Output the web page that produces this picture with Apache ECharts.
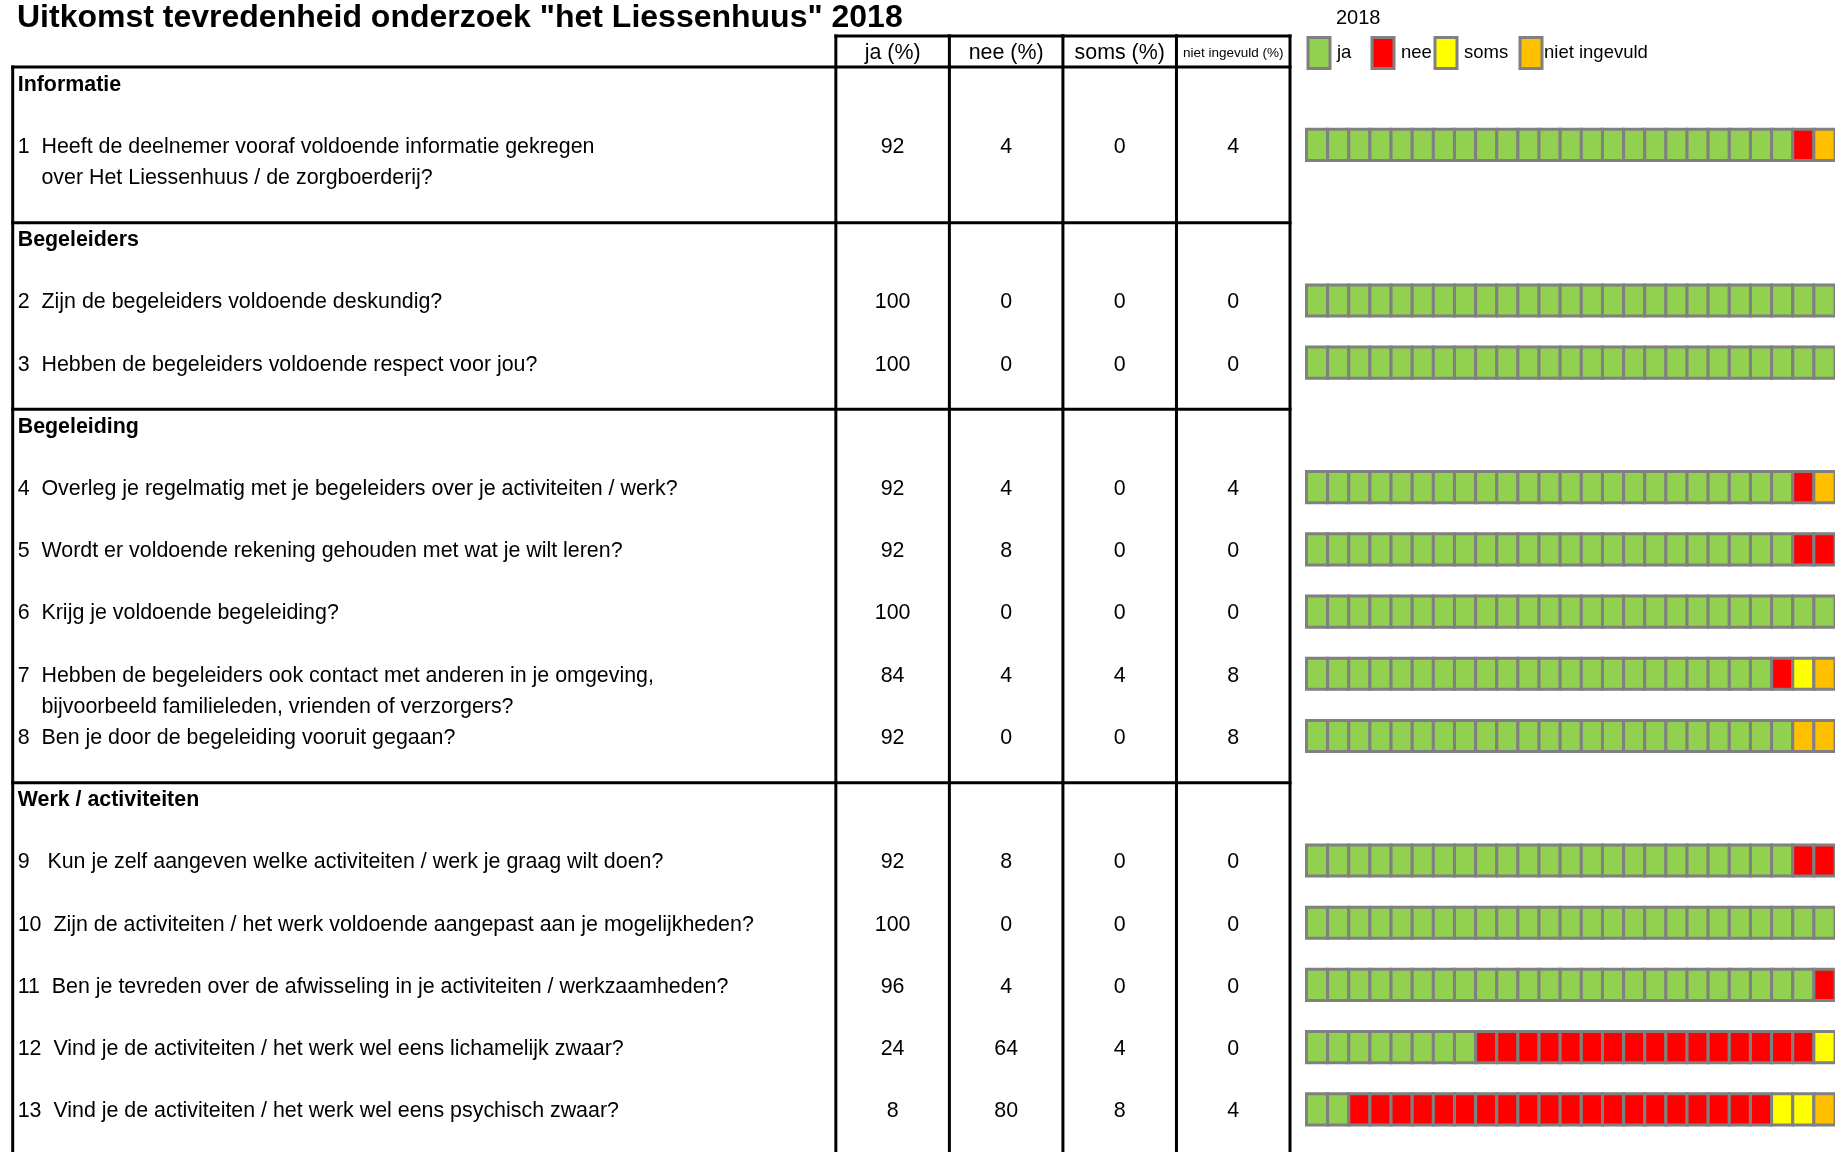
<!DOCTYPE html>
<html>
<head>
<meta charset="utf-8">
<title>Tevredenheid Liessenhuus 2018</title>
<script src="https://cdn.jsdelivr.net/npm/echarts@6/dist/echarts.min.js"></script>
<style>
  html, body { margin: 0; padding: 0; background: #fff; }
  #chart { width: 1835px; height: 1152px; }
</style>
</head>
<body>
<div id="chart"></div>
<script>
// kolomkoppen en legenda
var kolommen = ['ja (%)', 'nee (%)', 'soms (%)', 'niet ingevuld (%)'];
var legendaNamen = ['ja', 'nee', 'soms', 'niet ingevuld'];

// rubrieken + op welke regel ze staan
var rubrieken = ['Informatie', 'Begeleiders', 'Begeleiding', 'Werk / activiteiten'];
var rubriekRegel = [0, 5, 11, 23];

var vragen = [
  '1  Heeft de deelnemer vooraf voldoende informatie gekregen\n    over Het Liessenhuus / de zorgboerderij?',
  '2  Zijn de begeleiders voldoende deskundig?',
  '3  Hebben de begeleiders voldoende respect voor jou?',
  '4  Overleg je regelmatig met je begeleiders over je activiteiten / werk?',
  '5  Wordt er voldoende rekening gehouden met wat je wilt leren?',
  '6  Krijg je voldoende begeleiding?',
  '7  Hebben de begeleiders ook contact met anderen in je omgeving,\n    bijvoorbeeld familieleden, vrienden of verzorgers?',
  '8  Ben je door de begeleiding vooruit gegaan?',
  '9   Kun je zelf aangeven welke activiteiten / werk je graag wilt doen?',
  '10  Zijn de activiteiten / het werk voldoende aangepast aan je mogelijkheden?',
  '11  Ben je tevreden over de afwisseling in je activiteiten / werkzaamheden?',
  '12  Vind je de activiteiten / het werk wel eens lichamelijk zwaar?',
  '13  Vind je de activiteiten / het werk wel eens psychisch zwaar?'
];
var vraagRegel = [2, 7, 9, 13, 15, 17, 19, 21, 25, 27, 29, 31, 33];

// percentages zoals in de tabel
var ja = [92, 100, 100, 92, 92, 100, 84, 92, 92, 100, 96, 24, 8];
var nee = [4, 0, 0, 4, 8, 0, 4, 0, 8, 0, 4, 64, 80];
var soms = [0, 0, 0, 0, 0, 0, 4, 0, 0, 0, 0, 4, 8];
var nietIngevuld = [4, 0, 0, 4, 0, 0, 8, 8, 0, 0, 0, 0, 4];

// blokjes (van 25) in de balken rechts
var blokJa = [23, 25, 25, 23, 23, 25, 22, 23, 23, 25, 24, 8, 2];
var blokNee = [1, 0, 0, 1, 2, 0, 1, 0, 2, 0, 1, 16, 20];
var blokSoms = [0, 0, 0, 0, 0, 0, 1, 0, 0, 0, 0, 1, 2];
var blokNiet = [1, 0, 0, 1, 0, 0, 1, 2, 0, 0, 0, 0, 1];

// ---- opmaak ----
var FONT = 'Liberation Sans, Arial, sans-serif';
var LETTER = 21.4;
var TEKST_DY = 2;                         // tekst iets lager dan het midden
var REGEL_MIN = -1.5, REGEL_MAX = 34.37;
var VRAAG_BREEDTE = 7.25;                 // eerste kolom, in kolombreedtes
var TABEL_BREEDTE = VRAAG_BREEDTE + kolommen.length;
var kleuren = ['#92D050', '#FF0000', '#FFFF00', '#FFC000'];
var legendaLinks = [1306.5, 1370.5, 1433.5, 1518.5];
var legendaPad = [[2, 0, 0, 2], [2, 0, 0, 2], [2, 0, 0, 2], [2, 0, 0, -3]];
var waarden = [ja, nee, soms, nietIngevuld];
var blokken = [blokJa, blokNee, blokSoms, blokNiet];

var chart = echarts.init(document.getElementById('chart'));

function lijn(api, a, b) {
  var p1 = api.coord(a), p2 = api.coord(b);
  return {
    type: 'line',
    shape: { x1: p1[0], y1: p1[1], x2: p2[0], y2: p2[1] },
    style: { stroke: '#000', lineWidth: 3, lineCap: 'square' }
  };
}

function tekst(x, y, t, extra) {
  var st = { text: t, x: x, y: y + TEKST_DY, fill: '#000', fontSize: LETTER, fontFamily: FONT,
             align: 'left', verticalAlign: 'middle' };
  for (var k in extra) st[k] = extra[k];
  return { type: 'text', style: st };
}

// verticale lijnen van de tabel
var kolomGrenzen = [0, VRAAG_BREEDTE];
kolommen.forEach(function (k, i) { kolomGrenzen.push(VRAAG_BREEDTE + i + 1); });

var tabelSeries = [
  {
    type: 'custom', name: 'kolomlijnen', xAxisIndex: 0, yAxisIndex: 0, silent: true,
    data: kolomGrenzen.map(function (x) { return [x, 0]; }),
    renderItem: function (params, api) {
      var x = api.value(0);
      return lijn(api, [x, x === 0 ? -0.5 : -1.5], [x, REGEL_MAX + 1]);
    }
  },
  {
    type: 'custom', name: 'koppen', xAxisIndex: 0, yAxisIndex: 0, silent: true,
    data: kolommen.map(function (k, i) { return [VRAAG_BREEDTE + i + 0.5, -1]; }),
    renderItem: function (params, api) {
      var x = api.value(0);
      var p = api.coord([x, -1]);
      var klein = params.dataIndex === 3;
      return {
        type: 'group',
        children: [
          lijn(api, [x - 0.5, -1.5], [x + 0.5, -1.5]),
          tekst(p[0], p[1], kolommen[params.dataIndex],
                { align: 'center', fontSize: klein ? 13.5 : LETTER })
        ]
      };
    }
  },
  {
    type: 'custom', name: 'rubrieken', xAxisIndex: 0, yAxisIndex: 0, silent: true,
    data: rubriekRegel.map(function (r) { return [0, r]; }),
    renderItem: function (params, api) {
      var r = api.value(1);
      var p = api.coord([0, r]);
      return {
        type: 'group',
        children: [
          lijn(api, [0, r - 0.5], [TABEL_BREEDTE, r - 0.5]),
          tekst(p[0] + 5, p[1], rubrieken[params.dataIndex], { fontWeight: 'bold' })
        ]
      };
    }
  },
  {
    type: 'custom', name: 'vragen', xAxisIndex: 0, yAxisIndex: 0, silent: true,
    data: vraagRegel.map(function (r) { return [0, r]; }),
    renderItem: function (params, api) {
      var i = params.dataIndex;
      var r = api.value(1);
      var kids = [];
      vragen[i].split('\n').forEach(function (regel, j) {
        var p = api.coord([0, r + j]);
        kids.push(tekst(p[0] + 5, p[1], regel));
      });
      waarden.forEach(function (w, c) {
        var p = api.coord([VRAAG_BREEDTE + c + 0.5, r]);
        kids.push(tekst(p[0], p[1], String(w[i]), { align: 'center' }));
      });
      return { type: 'group', children: kids };
    }
  }
];

// balken met blokjes, een serie per antwoord
var blokSeries = legendaNamen.map(function (naam, c) {
  var data = [];
  vraagRegel.forEach(function (r, q) {
    var start = 0;
    for (var k = 0; k < c; k++) start += blokken[k][q];
    for (var j = 0; j < blokken[c][q]; j++) data.push([start + j, r]);
  });
  return {
    type: 'custom', name: naam, xAxisIndex: 1, yAxisIndex: 1,
    itemStyle: { color: kleuren[c], borderColor: '#808080', borderWidth: 3 },
    data: data,
    renderItem: function (params, api) {
      var p = api.coord([api.value(0), api.value(1)]);
      var s = api.size([1, 1]);
      return {
        type: 'rect',
        shape: { x: p[0], y: p[1] - s[1] / 2, width: s[0], height: s[1] },
        style: api.style()
      };
    }
  };
});

var option = {
  animation: false,
  textStyle: { fontFamily: FONT },
  title: [
    {
      text: 'Uitkomst tevredenheid onderzoek "het Liessenhuus" 2018',
      left: 17, top: 2, padding: 0,
      textStyle: { fontSize: 32, fontWeight: 'bold', color: '#000', fontFamily: FONT }
    },
    {
      text: '2018', left: 1336, top: 8, padding: 0,
      textStyle: { fontSize: 20, fontWeight: 'normal', color: '#000', fontFamily: FONT }
    }
  ],
  legend: legendaNamen.map(function (naam, i) {
    return {
      data: [naam], left: legendaLinks[i], top: 36, padding: 0,
      icon: 'rect', itemWidth: 22, itemHeight: 31, selectedMode: false,
      itemStyle: { borderColor: '#808080', borderWidth: 3 },
      textStyle: { fontSize: 18.5, color: '#000', fontFamily: FONT, padding: legendaPad[i] }
    };
  }),
  grid: [
    { left: 12.7, right: 545, top: 36, bottom: 0 },
    { left: 1306.5, right: 0, top: 36, bottom: 0 }
  ],
  xAxis: [
    { type: 'value', gridIndex: 0, min: 0, max: TABEL_BREEDTE, show: false },
    { type: 'value', gridIndex: 1, min: 0, max: 25, show: false }
  ],
  yAxis: [
    { type: 'value', gridIndex: 0, min: REGEL_MIN, max: REGEL_MAX, inverse: true, show: false },
    { type: 'value', gridIndex: 1, min: REGEL_MIN, max: REGEL_MAX, inverse: true, show: false }
  ],
  series: tabelSeries.concat(blokSeries)
};

chart.setOption(option);
</script>
</body>
</html>
